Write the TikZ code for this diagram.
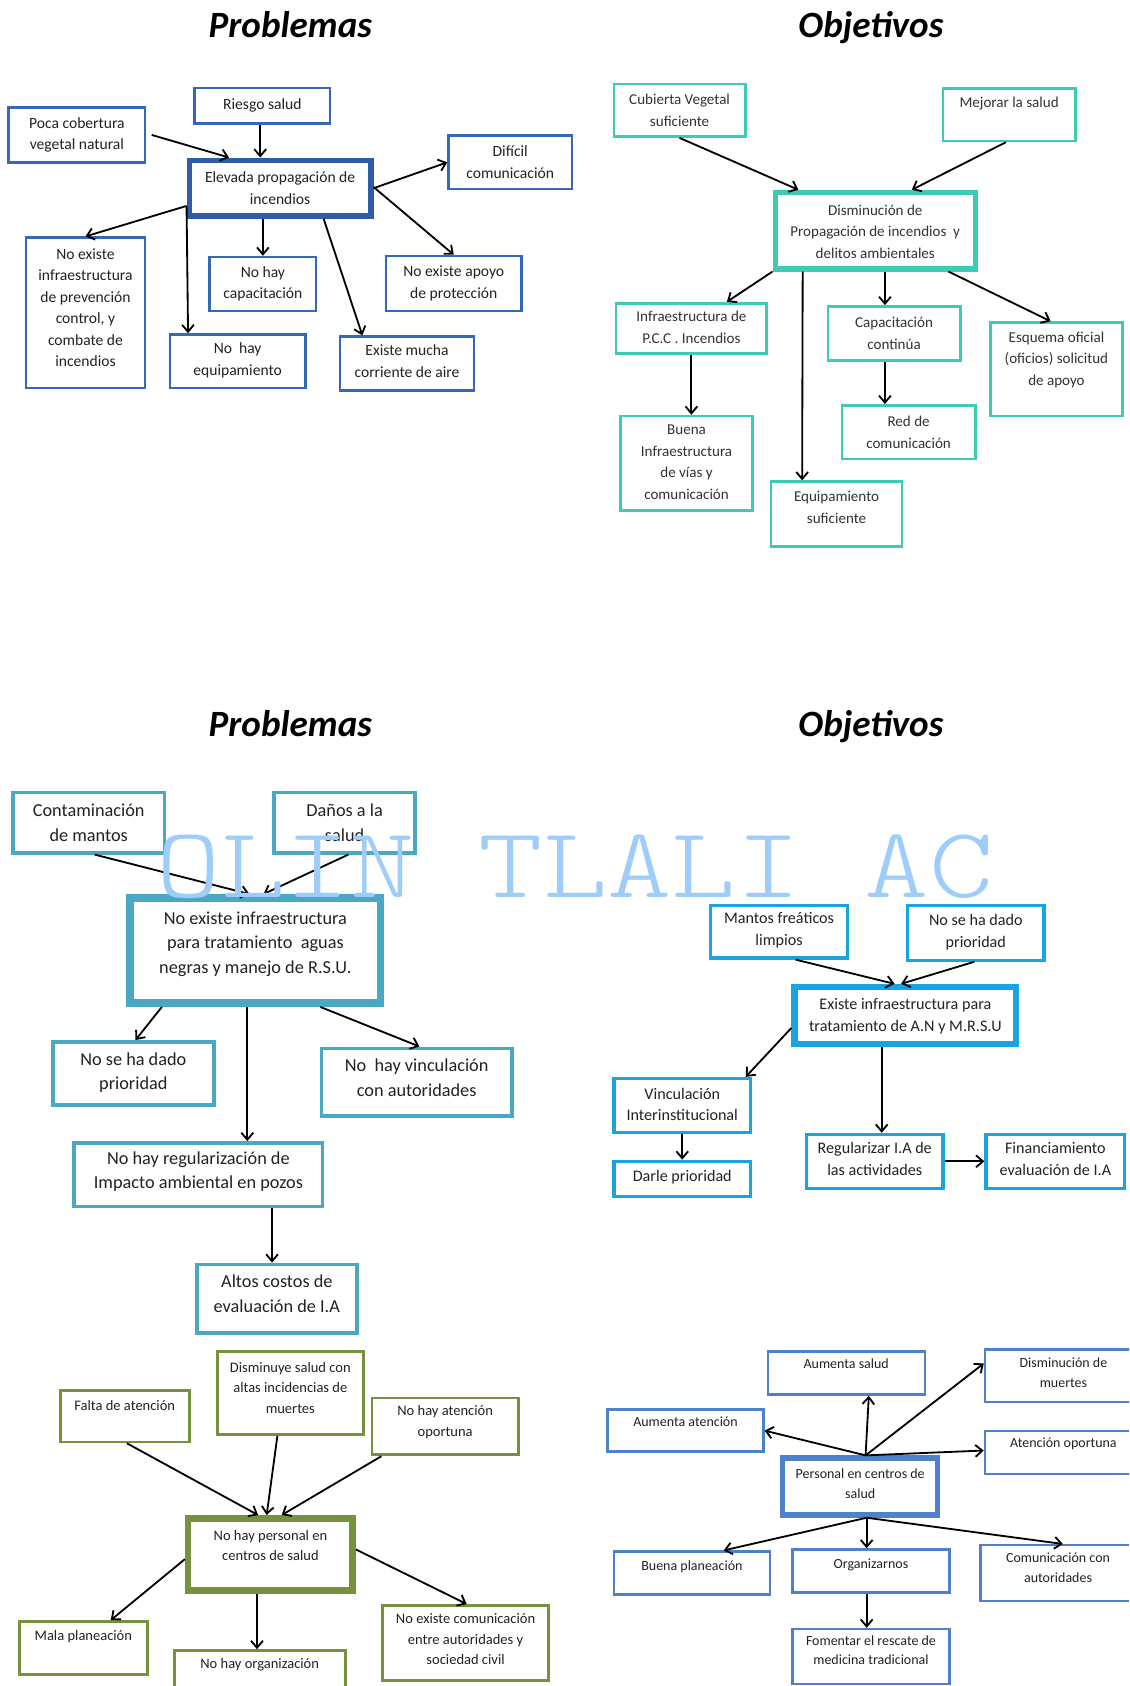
\documentclass[tikz,border=0pt]{standalone}
\usepackage{fontspec}
\setmainfont{Carlito}
\newfontfamily\wmfont{lmmonolt10-regular.otf}
\usetikzlibrary{arrows.meta}
\definecolor{cA}{HTML}{3568B8}
\definecolor{cAd}{HTML}{2E5CA8}
\definecolor{cB}{HTML}{3ECBB3}
\definecolor{cC}{HTML}{4BA8C2}
\definecolor{cD}{HTML}{19A3DF}
\definecolor{cE}{HTML}{76923C}
\definecolor{cF}{HTML}{4F81C8}
\definecolor{wm}{HTML}{9ECDFA}
\definecolor{ink}{HTML}{222222}
\tikzset{
 bxs/.style={draw, rectangle, inner sep=0pt},
 txt/.style={align=center, inner sep=0pt, text=ink},
 arr/.style={draw=black, line width=1.7pt, -{Straight Barb[length=6.5pt,width=11pt]}},
 ttl/.style={font=\fontsize{34.5}{38}\selectfont\bfseries\itshape, inner sep=0pt, anchor=base},
}
\newcommand\bx[8]{\node[bxs,#6,minimum width=#4-#2,minimum height=#5-#3] (#1) at ({(#2+#4)/2},{(#3+#5)/2}) {};
\node[txt] (#1t) at ({(#2+#4)/2},{(#3+#5)/2+#7}) {#8};}
\begin{document}
\begin{tikzpicture}[x=1pt,y=-1pt]
\useasboundingbox (0,0) rectangle (1050,1568);
\clip (0,0) rectangle (1050,1568);
\fill[white] (0,0) rectangle (1050,1568);
% titles
\node[ttl] (t1) at (270,34.5) {Problemas};
\node[ttl] (t2) at (810,34.5) {Objetivos};
\node[ttl] (t3) at (270,684.5) {Problemas};
\node[ttl] (t4) at (810,684.5) {Objetivos};
% ---------- top left
\begin{scope}[txt/.append style={font=\fontsize{14.5}{20}\selectfont}, bxs/.append style={draw=cA,line width=2.2pt}]
\bx{riesgo}{181}{82}{307}{115}{}{0}{Riesgo salud}
\bx{poca}{8}{100}{135}{151}{}{0}{Poca cobertura\\vegetal natural}
\bx{elev}{176}{149}{345}{201}{line width=5pt,draw=cAd}{0}{Elevada propagación de\\incendios}
\bx{dificil}{417}{126}{532}{176}{}{0}{Difícil\\comunicación}
\bx{noinf}{24}{221}{135}{361}{}{-5}{No existe\\infraestructura\\de prevención\\control, y\\combate de\\incendios}
\bx{nocap}{195}{239}{294}{289}{}{0}{No hay\\capacitación}
\bx{noapoyo}{359}{238}{485}{289}{}{0}{No existe apoyo\\de protección}
\bx{noequip}{158}{311}{284}{361}{}{-1}{No\ \ hay\\equipamiento}
\bx{corriente}{316}{313}{441}{363}{}{-2}{Existe mucha\\corriente de aire}
\end{scope}
\draw[arr] ([xshift=5]poca.east) -- ([xshift=-47.5]elev.north);
\draw[arr] ([xshift=-2]riesgo.south) -- ([xshift=-18.5]elev.north);
\draw[arr] (elev.east) -- (dificil.west);
\draw[arr] ([shift={(0,-1)}]elev.east) -- (noapoyo.north);
\draw[arr] (elev.south -| nocap.north) -- (nocap.north);
\draw[arr] ([xshift=40.5]elev.south) -- ([xshift=-41.5]corriente.north);
\draw[arr] ([shift={(0,-12)}]elev.south west) -- (noinf.north);
\draw[arr] ([shift={(0,-12)}]elev.south west) -- ([xshift=18]noequip.north west);
% ---------- top right
\begin{scope}[txt/.append style={font=\fontsize{14}{20}\selectfont, text=black!80}, bxs/.append style={draw=cB,line width=2.5pt}]
\bx{cub}{571}{78}{693}{127}{}{0}{Cubierta Vegetal\\suficiente}
\bx{mej}{877}{82}{1000}{131}{}{-10}{Mejorar la salud}
\bx{dism}{721}{179}{907}{250}{line width=5pt}{1}{Disminución de\\Propagación de incendios\ \ y\\delitos ambientales}
\bx{pcc}{573}{282}{713}{329}{}{-1}{Infraestructura de\\P.C.C . Incendios}
\bx{capc}{770}{285}{893}{335}{}{0}{Capacitación\\continúa}
\bx{esq}{921}{300}{1044}{387}{}{-9}{Esquema oficial\\(oficios) solicitud\\de apoyo}
\bx{buena}{577}{387}{700}{475}{}{-1}{Buena\\Infraestructura\\de vías y\\comunicación}
\bx{red}{783}{377}{907}{427}{}{0}{Red de\\comunicación}
\bx{equi}{717}{448}{839}{508}{}{-6}{Equipamiento\\suficiente}
\end{scope}
\draw[arr] (cub.south) -- ([xshift=24]dism.north west);
\draw[arr] ([xshift=-3]mej.south) -- ([xshift=34]dism.north);
\draw[arr] (dism.south west) -- ([xshift=33]pcc.north);
\draw[arr] ([xshift=28]dism.south west) -- ([xshift=-32]equi.north);
\draw[arr] ([xshift=9]dism.south) -- ([xshift=-8.5]capc.north);
\draw[arr] ([xshift=68]dism.south) -- ([xshift=-5.5]esq.north);
\draw[arr] (pcc.south) -- (pcc.south |- buena.north);
\draw[arr] ([xshift=-8.5]capc.south) -- ([xshift=-22]red.north);
% ---------- middle left
\begin{scope}[txt/.append style={font=\fontsize{17}{23}\selectfont}, bxs/.append style={draw=cC,line width=3.5pt}]
\bx{cont}{12}{737}{153}{793}{}{0}{Contaminación\\de mantos}
\bx{danos}{255}{737}{386}{793}{}{0}{Daños a la\\salud}
\bx{noinf2}{121}{835}{354}{933}{line width=7pt}{-6}{No existe infraestructura\\para tratamiento\ \ aguas\\negras y manejo de R.S.U.}
\bx{prior}{49}{969}{199}{1028}{}{-1}{No se ha dado\\prioridad}
\bx{vinc}{299}{975}{476}{1038}{}{-4}{No\ \ hay vinculación\\con autoridades}
\bx{regu}{69}{1063}{300}{1122}{}{-3}{No hay regularización de\\Impacto ambiental en pozos}
\bx{altos}{183}{1176}{332}{1240}{}{-5}{Altos costos de\\evaluación de I.A}
\end{scope}
\draw[arr] ([xshift=5.5]cont.south) -- ([xshift=-5.5]noinf2.north);
\draw[arr] ([xshift=3.5]danos.south) -- ([xshift=7.5]noinf2.north);
\draw[arr] ([xshift=33]noinf2.south west) -- ([xshift=2]prior.north);
\draw[arr] ([xshift=-7.5]noinf2.south) -- ([xshift=45.5]regu.north);
\draw[arr] ([xshift=60.5]noinf2.south) -- ([xshift=2.5]vinc.north);
\draw[arr] ([xshift=68.5]regu.south) -- ([xshift=-4.5]altos.north);
% ---------- middle right
\begin{scope}[txt/.append style={font=\fontsize{15}{20}\selectfont}, bxs/.append style={draw=cD,line width=3pt}]
\bx{mantos}{661}{842}{788}{891}{}{-1.5}{Mantos freáticos\\limpios}
\bx{prior2}{844}{842}{971}{893}{}{-0.5}{No se ha dado\\prioridad}
\bx{existe}{739}{918}{945}{971}{line width=6pt}{0.5}{Existe infraestructura para\\tratamiento de A.N y M.R.S.U}
\bx{vincu}{571}{1003}{698}{1053}{}{-1}{Vinculación\\Interinstitucional}
\bx{darle}{571}{1080}{698}{1113}{}{-2}{Darle prioridad}
\bx{regul}{750}{1055}{877}{1105}{}{-2}{Regularizar I.A de\\las actividades}
\bx{finan}{917}{1055}{1046}{1105}{}{-2}{Financiamiento\\evaluación de I.A}
\end{scope}
\draw[arr] ([xshift=15.5]mantos.south) -- ([xshift=-10]existe.north);
\draw[arr] ([xshift=-1.5]prior2.south) -- ([xshift=-4]existe.north);
\draw[arr] ([yshift=-11.5]existe.west) -- ([xshift=-6]vincu.north east);
\draw[arr] ([xshift=-22]existe.south) -- ([xshift=6.5]regul.north);
\draw[arr] (vincu.south) -- (darle.north);
\draw[arr] (regul.east) -- (finan.west);
% ---------- bottom left
\begin{scope}[txt/.append style={font=\fontsize{13.5}{19}\selectfont}, bxs/.append style={draw=cE,line width=2.5pt}]
\bx{falta}{56}{1293}{176}{1341}{}{-10}{Falta de atención}
\bx{dismi}{202}{1257}{338}{1334}{}{-5}{Disminuye salud con\\altas incidencias de\\muertes}
\bx{noat}{346}{1300}{482}{1353}{}{-4}{No hay atención\\oportuna}
\bx{pers}{175}{1412}{328}{1479}{line width=6pt}{-8}{No hay personal en\\centros de salud}
\bx{mala}{18}{1508}{137}{1557}{}{-10}{Mala planeación}
\bx{org}{162}{1535}{321}{1595}{}{-17}{No hay organización}
\bx{nocom}{356}{1493}{510}{1563}{}{-3.5}{No existe comunicación\\entre autoridades y\\sociedad civil}
\end{scope}
\draw[arr] ([xshift=2]falta.south) -- ([xshift=-11.5]pers.north);
\draw[arr] ([xshift=-12]dismi.south) -- ([xshift=-3.5]pers.north);
\draw[arr] ([xshift=10]noat.south west) -- ([xshift=10.5]pers.north);
\draw[arr] ([yshift=-4.5]pers.west) -- ([xshift=25.5]mala.north);
\draw[arr] ([xshift=-12.5]pers.south) -- ([xshift=-2.5]org.north);
\draw[arr] ([yshift=4.5]pers.east) -- ([xshift=1]nocom.north);
% ---------- bottom right
\begin{scope}[txt/.append style={font=\fontsize{13}{18}\selectfont}, bxs/.append style={draw=cF,line width=2.2pt}]
\bx{aus}{714}{1257}{860}{1297}{}{-9}{Aumenta salud}
\bx{dmu}{916}{1255}{1062}{1304}{}{-3}{Disminución de\\muertes}
\bx{aat}{565}{1311}{710}{1350}{}{-8}{Aumenta atención}
\bx{aop}{916}{1331}{1062}{1371}{}{-8}{Atención oportuna}
\bx{pcs}{728}{1356}{872}{1409}{line width=5pt}{-2.5}{Personal en centros de\\salud}
\bx{bpl}{571}{1443}{716}{1483}{}{-6}{Buena planeación}
\bx{orgn}{737}{1441}{883}{1481}{}{-6}{Organizarnos}
\bx{com}{912}{1437}{1056}{1489}{}{-5}{Comunicación con\\autoridades}
\bx{fom}{737}{1515}{883}{1566}{}{-6}{Fomentar el rescate de\\medicina tradicional}
\end{scope}
\draw[arr] ([xshift=5]pcs.north) -- ([xshift=21]aus.south);
\draw[arr] ([xshift=5]pcs.north) -- ([yshift=11.5]dmu.west);
\draw[arr] ([xshift=5]pcs.north) -- (aat.east);
\draw[arr] ([xshift=5]pcs.north) -- ([yshift=2]aop.west);
\draw[arr] ([xshift=6]pcs.south) -- ([xshift=29.5]bpl.north);
\draw[arr] ([xshift=6]pcs.south) -- ([xshift=-4]orgn.north);
\draw[arr] ([xshift=6]pcs.south) -- ([xshift=4.5]com.north);
\draw[arr] ([xshift=-4]orgn.south) -- ([xshift=-4]fom.north);
% watermark
\node[font=\wmfont\fontsize{114}{114}\selectfont, text=wm, anchor=base, inner sep=0pt] (wmark) at (535,835) {\scalebox{1}[0.82]{OLIN TLALI AC}};
\end{tikzpicture}
\end{document}
